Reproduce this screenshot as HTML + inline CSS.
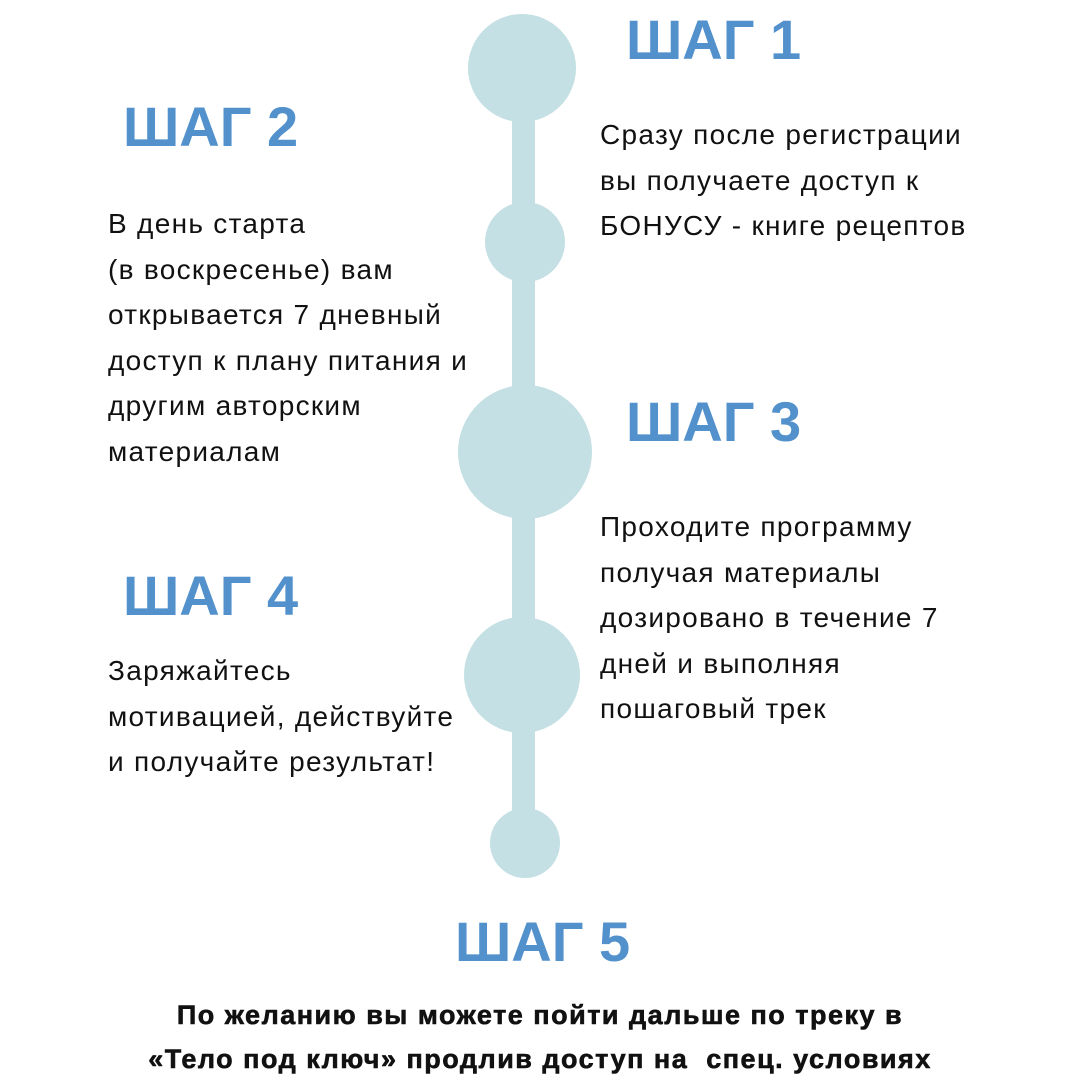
<!DOCTYPE html>
<html><head><meta charset="utf-8"><style>
body{margin:0;width:1080px;height:1080px;background:#fff;position:relative;overflow:hidden;font-family:"Liberation Sans",sans-serif}
.h{position:absolute;font-weight:bold;font-size:56px;color:#5291cc;line-height:1;white-space:nowrap}
.t{position:absolute;font-size:28px;line-height:45.5px;color:#111;white-space:nowrap;letter-spacing:1.3px}
.c{position:absolute;border-radius:50%;background:#c4e0e4}
</style></head><body>
<div class="c" style="left:512px;top:110px;width:23px;height:710px;border-radius:0"></div>
<div class="c" style="left:468px;top:14px;width:108px;height:108px"></div>
<div class="c" style="left:485px;top:202px;width:80px;height:80px"></div>
<div class="c" style="left:458px;top:385px;width:134px;height:134px"></div>
<div class="c" style="left:464px;top:617px;width:116px;height:116px"></div>
<div class="c" style="left:490px;top:808px;width:70px;height:70px"></div>

<div class="h" style="left:626px;top:12px">ШАГ 1</div>
<div class="h" style="left:123px;top:99px">ШАГ 2</div>
<div class="h" style="left:626px;top:394px">ШАГ 3</div>
<div class="h" style="left:123px;top:568px">ШАГ 4</div>
<div class="h" style="left:455px;top:914px">ШАГ 5</div>

<div class="t" style="left:600px;top:112px">Сразу после регистрации<br>вы получаете доступ к<br>БОНУСУ - книге рецептов</div>
<div class="t" style="left:108px;top:201px">В день старта<br>(в воскресенье) вам<br>открывается 7 дневный<br>доступ к плану питания и<br>другим авторским<br>материалам</div>
<div class="t" style="left:600px;top:504px">Проходите программу<br>получая материалы<br>дозировано в течение 7<br>дней и выполняя<br>пошаговый трек</div>
<div class="t" style="left:108px;top:648px">Заряжайтесь<br>мотивацией, действуйте<br>и получайте результат!</div>

<div class="t" style="left:0;width:1080px;top:993px;text-align:center;font-weight:bold;font-size:27px;line-height:44px;letter-spacing:1.5px;-webkit-text-stroke:0.6px #111">По желанию вы можете пойти дальше по треку в<br>«Тело под ключ» продлив доступ на&nbsp; спец. условиях</div>
</body></html>
